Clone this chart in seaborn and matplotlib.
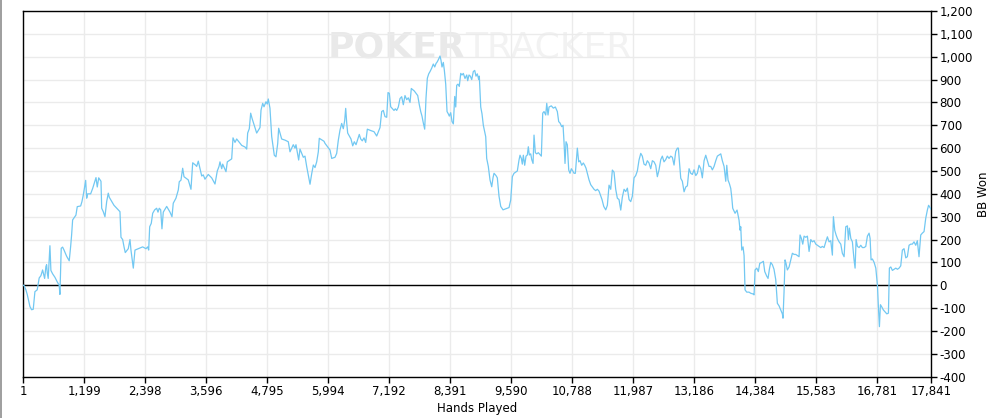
import matplotlib
matplotlib.use("Agg")
import matplotlib.pyplot as plt
import matplotlib.ticker as mticker
from matplotlib.patches import Rectangle
import seaborn as sns
import pandas as pd

hands = [
    1, 14, 53, 79, 132, 165, 197, 230, 275, 314, 348, 381, 421, 446, 460, 472, 491, 525, 544, 578,
    623, 668, 707, 721, 747, 774, 800, 853, 904, 932, 951, 971, 1036, 1062, 1129, 1154, 1180, 1200, 1227, 1247,
    1266, 1325, 1365, 1404, 1430, 1455, 1483, 1528, 1542, 1573, 1606, 1640, 1671, 1691, 1783, 1901, 1921, 1954, 1980, 2005,
    2064, 2098, 2117, 2143, 2163, 2196, 2261, 2347, 2412, 2445, 2465, 2485, 2516, 2544, 2583, 2622, 2648, 2673, 2701, 2726,
    2752, 2819, 2884, 2923, 2948, 3001, 3047, 3066, 3100, 3133, 3159, 3243, 3296, 3330, 3389, 3408, 3440, 3507, 3538, 3571,
    3636, 3703, 3768, 3813, 3847, 3866, 3900, 3919, 3984, 4010, 4096, 4122, 4161, 4194, 4293, 4357, 4391, 4410, 4442, 4469,
    4495, 4554, 4587, 4652, 4672, 4705, 4731, 4770, 4795, 4815, 4848, 4882, 4933, 4966, 5000, 5019, 5078, 5143, 5208, 5242,
    5306, 5340, 5359, 5412, 5438, 5503, 5536, 5570, 5601, 5635, 5668, 5700, 5733, 5766, 5798, 5817, 5910, 5929, 6027, 6061,
    6126, 6159, 6191, 6224, 6257, 6289, 6316, 6336, 6356, 6375, 6440, 6474, 6505, 6539, 6603, 6631, 6662, 6696, 6729, 6761,
    6827, 6892, 6945, 7010, 7043, 7075, 7108, 7142, 7167, 7193, 7220, 7285, 7311, 7338, 7370, 7403, 7436, 7468, 7501, 7535,
    7566, 7600, 7625, 7684, 7751, 7782, 7810, 7835, 7861, 7888, 7914, 7940, 7967, 7993, 8026, 8057, 8085, 8110, 8136, 8163,
    8189, 8208, 8228, 8254, 8274, 8301, 8327, 8352, 8372, 8399, 8425, 8451, 8478, 8498, 8517, 8543, 8568, 8596, 8621, 8647,
    8680, 8714, 8733, 8759, 8784, 8812, 8843, 8871, 8896, 8922, 8949, 8961, 8989, 9014, 9040, 9067, 9087, 9106, 9138, 9171,
    9205, 9230, 9250, 9289, 9315, 9348, 9382, 9427, 9486, 9545, 9578, 9610, 9643, 9708, 9741, 9761, 9787, 9806, 9826, 9853,
    9879, 9905, 9924, 9944, 9971, 9991, 10017, 10036, 10062, 10089, 10121, 10154, 10180, 10207, 10233, 10266, 10286, 10311, 10331, 10376,
    10415, 10455, 10494, 10521, 10547, 10580, 10606, 10625, 10645, 10665, 10690, 10718, 10743, 10769, 10797, 10822, 10848, 10867, 10887, 10914,
    10940, 10973, 11005, 11032, 11058, 11084, 11117, 11150, 11182, 11215, 11248, 11280, 11313, 11347, 11372, 11406, 11445, 11477, 11510, 11543,
    11575, 11608, 11641, 11673, 11706, 11740, 11771, 11805, 11838, 11870, 11903, 11936, 11968, 12001, 12034, 12066, 12099, 12133, 12164, 12197,
    12231, 12262, 12295, 12329, 12361, 12394, 12427, 12459, 12492, 12526, 12557, 12590, 12624, 12655, 12689, 12722, 12754, 12787, 12820, 12852,
    12872, 12899, 12919, 12950, 12984, 13017, 13049, 13082, 13115, 13147, 13180, 13214, 13245, 13278, 13312, 13343, 13377, 13410, 13442, 13475,
    13508, 13540, 13573, 13607, 13638, 13671, 13705, 13736, 13770, 13803, 13823, 13848, 13874, 13901, 13921, 13940, 13986, 14025, 14064, 14084,
    14098, 14117, 14143, 14163, 14182, 14215, 14260, 14294, 14339, 14359, 14379, 14412, 14443, 14471, 14510, 14542, 14569, 14608, 14634, 14660,
    14687, 14719, 14751, 14785, 14817, 14850, 14883, 14915, 14928, 14948, 14968, 14988, 15013, 15047, 15080, 15112, 15145, 15179, 15210, 15243,
    15263, 15289, 15316, 15342, 15375, 15407, 15440, 15474, 15505, 15538, 15572, 15603, 15636, 15670, 15701, 15735, 15768, 15800, 15833, 15866,
    15898, 15918, 15945, 15971, 15996, 16030, 16063, 16094, 16128, 16161, 16193, 16213, 16232, 16260, 16291, 16324, 16344, 16364, 16390, 16423,
    16456, 16487, 16521, 16554, 16586, 16619, 16639, 16658, 16684, 16718, 16751, 16783, 16802, 16822, 16842, 16869, 16900, 16928, 16967, 16999,
    17018, 17046, 17077, 17111, 17144, 17176, 17208, 17241, 17273, 17306, 17340, 17371, 17404, 17438, 17469, 17502, 17536, 17567, 17600, 17634,
    17665, 17699, 17732, 17764, 17788, 17817, 17841,
]

bb_won = [
    0, 0, -20, -40, -93, -107, -105, -28, -20, 32, 42, 67, 30, 82, 90, 55, 30, 173, 65, 50,
    35, 15, 0, -40, 162, 167, 155, 127, 107, 170, 220, 286, 307, 344, 347, 366, 395, 421, 459, 381,
    400, 400, 424, 452, 471, 430, 470, 455, 337, 322, 300, 366, 403, 385, 350, 322, 210, 200, 169, 143,
    160, 200, 154, 111, 75, 154, 160, 168, 160, 168, 154, 256, 271, 315, 330, 337, 320, 337, 330, 247,
    320, 345, 320, 300, 359, 381, 417, 453, 460, 512, 475, 461, 420, 536, 525, 520, 543, 478, 483, 464,
    485, 470, 443, 500, 520, 540, 510, 530, 497, 540, 553, 645, 625, 640, 612, 605, 596, 666, 685, 753,
    731, 690, 666, 690, 766, 796, 781, 803, 793, 815, 775, 651, 569, 562, 620, 687, 640, 635, 628, 584,
    615, 600, 615, 548, 596, 560, 565, 519, 483, 442, 488, 526, 515, 540, 584, 643, 630, 621, 592, 555,
    560, 577, 635, 679, 708, 685, 720, 774, 710, 666, 640, 610, 628, 615, 660, 640, 632, 645, 625, 683,
    677, 672, 653, 690, 760, 765, 738, 735, 843, 840, 781, 765, 772, 765, 780, 817, 825, 790, 830, 812,
    820, 800, 861, 850, 830, 790, 760, 740, 710, 683, 820, 906, 925, 935, 950, 968, 955, 970, 978, 990,
    1003, 985, 955, 975, 941, 880, 760, 750, 740, 755, 716, 706, 826, 780, 875, 880, 870, 927, 920, 927,
    905, 920, 895, 920, 915, 900, 935, 940, 915, 925, 900, 915, 780, 750, 700, 670, 650, 555, 520, 461,
    431, 470, 490, 480, 470, 390, 345, 330, 335, 340, 373, 475, 490, 500, 548, 569, 555, 530, 569, 525,
    565, 570, 606, 570, 575, 550, 533, 657, 580, 575, 580, 572, 565, 753, 760, 745, 796, 745, 780, 785,
    775, 780, 760, 716, 710, 694, 700, 628, 533, 628, 615, 504, 490, 510, 500, 490, 490, 545, 600, 540,
    545, 525, 535, 525, 512, 490, 461, 440, 430, 420, 414, 420, 412, 390, 375, 345, 330, 350, 438, 420,
    504, 495, 420, 381, 375, 329, 385, 420, 410, 425, 375, 366, 390, 470, 480, 500, 548, 577, 565, 530,
    525, 545, 535, 510, 545, 540, 525, 475, 505, 550, 565, 540, 550, 565, 555, 565, 560, 526, 585, 600,
    600, 526, 468, 455, 409, 430, 435, 510, 490, 485, 505, 480, 490, 525, 510, 470, 545, 569, 545, 520,
    520, 505, 520, 545, 565, 570, 575, 545, 520, 455, 525, 460, 445, 424, 385, 337, 315, 329, 285, 241,
    256, 154, 168, 130, -20, -30, -30, -35, -38, -42, 67, 75, 60, 96, 100, 105, 60, 40, 30, 70,
    100, 90, 70, 25, -79, -90, -108, -125, -144, -30, 111, 95, 67, 80, 110, 140, 135, 135, 130, 125,
    220, 205, 180, 215, 210, 215, 148, 200, 190, 195, 180, 175, 170, 165, 170, 165, 190, 212, 190, 195,
    132, 300, 240, 220, 205, 190, 180, 140, 125, 256, 260, 200, 250, 205, 190, 111, 75, 200, 170, 165,
    175, 165, 165, 170, 215, 228, 205, 111, 115, 100, 75, 0, -94, -181, -85, -95, -108, -115, -125, -122,
    75, 80, 65, 70, 75, 70, 75, 85, 154, 160, 120, 125, 175, 180, 180, 190, 175, 195, 125, 220,
    228, 235, 293, 329, 350, 340, 330,
]

x_tick_values = [1, 1199, 2398, 3596, 4795, 5994, 7192, 8391, 9590, 10788,
                 11987, 13186, 14384, 15583, 16781, 17841]
y_tick_values = list(range(-400, 1201, 100))

line_color = "#72c8f2"

sns.set_theme(style="white")
plt.rcParams["font.family"] = ["DejaVu Sans"]

fig = plt.figure(figsize=(9.94, 4.18), dpi=100)
ax = fig.add_axes([0.0234, 0.0988, 0.9135, 0.8749])

df = pd.DataFrame({"Hands Played": hands, "BB Won": bb_won})

# watermark
ax.text(0.4865, 0.900, "POKER", transform=ax.transAxes, fontsize=26, fontweight="bold",
        color="#e9e9e9", ha="right", va="center", zorder=0)
ax.text(0.4865, 0.900, "TRACKER", transform=ax.transAxes, fontsize=26,
        color="#f2f2f2", ha="left", va="center", zorder=0)

ax.axhline(0, color="black", linewidth=1.0, zorder=2)
sns.lineplot(data=df, x="Hands Played", y="BB Won", ax=ax, color=line_color,
             linewidth=0.9, zorder=3, estimator=None, sort=False)

ax.set_xlim(1, 17841)
ax.set_ylim(-400, 1200)
ax.set_xticks(x_tick_values)
ax.set_xticklabels([f"{v:,}" for v in x_tick_values])
ax.set_yticks(y_tick_values)
ax.yaxis.set_major_formatter(mticker.FuncFormatter(lambda v, p: f"{int(v):,}"))
ax.yaxis.tick_right()
ax.yaxis.set_label_position("right")

ax.grid(True, color="#ebebeb", linewidth=1.0, zorder=0)
ax.set_axisbelow(True)
for s in ax.spines.values():
    s.set_visible(True)
    s.set_color("black")
    s.set_linewidth(1.0)

ax.tick_params(axis="both", which="major", direction="out", length=4, width=1,
               color="black", labelsize=8.5, labelcolor="black", pad=2)
ax.tick_params(axis="y", left=False, right=True)
ax.tick_params(axis="x", bottom=True, top=False)

ax.set_xlabel("Hands Played", fontsize=8.5, color="black")
ax.set_ylabel("BB Won", fontsize=8.5, color="black", rotation=90, va="center")
ax.xaxis.set_label_coords(0.5, -0.068)
ax.yaxis.set_label_coords(1.057, 0.5)

fig.patches.append(Rectangle((0, 0), 2.0 / 994, 1, transform=fig.transFigure,
                             facecolor="#a0a0a0", edgecolor="none"))

fig.savefig("out.png", dpi=100)
